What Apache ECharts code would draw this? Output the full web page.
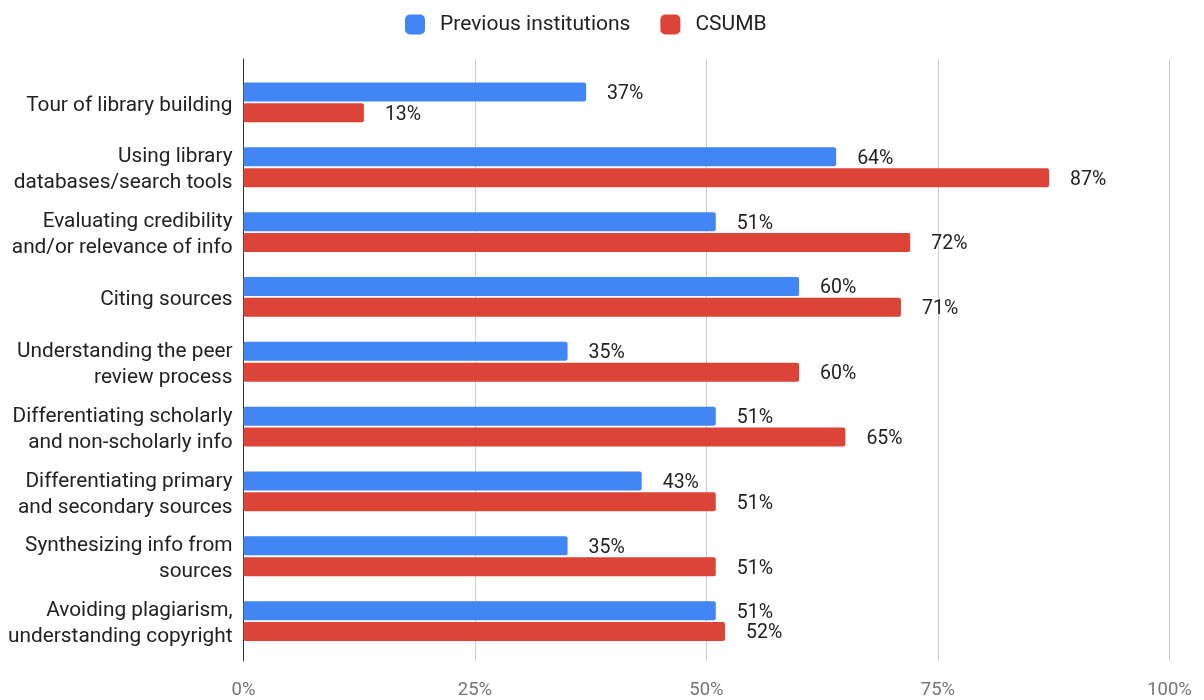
<!DOCTYPE html>
<html>
<head>
<meta charset="utf-8">
<script src="https://cdn.jsdelivr.net/npm/echarts@6/dist/echarts.min.js"></script>
<style>
  html, body { margin: 0; padding: 0; background: #fff; }
  #chart { width: 1204px; height: 700px; }
</style>
</head>
<body>
<div id="chart"></div>
<script>
// Library instruction topics and share of respondents (%)
const categories = [
  'Tour of library building',
  'Using library\ndatabases/search tools',
  'Evaluating credibility\nand/or relevance of info',
  'Citing sources',
  'Understanding the peer\nreview process',
  'Differentiating scholarly\nand non-scholarly info',
  'Differentiating primary\nand secondary sources',
  'Synthesizing info from\nsources',
  'Avoiding plagiarism,\nunderstanding copyright'
];
const previousInstitutions = [37, 64, 51, 60, 35, 51, 43, 35, 51];
const csumb = [13, 87, 72, 71, 60, 65, 51, 51, 52];
const axisTicks = [0, 25, 50, 75, 100];

const FONT = 'Roboto, "Noto Sans", sans-serif';
const chart = echarts.init(document.getElementById('chart'), null, { renderer: 'canvas' });

const labelStyle = {
  show: true,
  position: 'right',
  distance: 21,
  offset: [0, 2],
  formatter: p => p.value + '%',
  fontFamily: FONT,
  fontSize: 19.5,
  color: '#222'
};

chart.setOption({
  animation: false,
  textStyle: { fontFamily: FONT },
  legend: {
    left: 400,
    top: 9,
    itemWidth: 20,
    itemHeight: 20,
    itemGap: 30,
    icon: 'roundRect',
    textStyle: { fontFamily: FONT, fontSize: 21, color: '#222', padding: [0, 0, 0, 10] },
    data: ['Previous institutions', 'CSUMB']
  },
  grid: [
    // frame: gridlines, value labels and baseline
    { left: 243.5, right: 34.5, top: 59, bottom: 37, containLabel: false },
    // bars
    { left: 243.5, right: 34.5, top: 70, bottom: 46.5, containLabel: false }
  ],
  xAxis: [
    {
      gridIndex: 0,
      type: 'value',
      min: axisTicks[0],
      max: axisTicks[axisTicks.length - 1],
      interval: axisTicks[1] - axisTicks[0],
      axisLine: { show: false },
      axisTick: { show: false },
      splitLine: { show: true, lineStyle: { color: '#cccccc', width: 1 } },
      axisLabel: {
        formatter: '{value}%',
        color: '#757575',
        fontFamily: FONT,
        fontSize: 18.5,
        margin: 20
      }
    },
    {
      gridIndex: 1,
      type: 'value',
      min: axisTicks[0],
      max: axisTicks[axisTicks.length - 1],
      show: false
    }
  ],
  yAxis: [
    {
      gridIndex: 0,
      type: 'category',
      data: [''],
      axisLine: { show: true, lineStyle: { color: '#333', width: 1 } },
      axisTick: { show: false },
      axisLabel: { show: false },
      splitLine: { show: false }
    },
    {
      gridIndex: 1,
      type: 'category',
      inverse: true,
      data: categories,
      axisLine: { show: false },
      axisTick: { show: false },
      splitLine: { show: false },
      axisLabel: {
        color: '#222',
        fontFamily: FONT,
        fontSize: 20.8,
        lineHeight: 26,
        margin: 11,
        align: 'right',
        // each line gets a little top padding so the text sits slightly lower
        formatter: v => v.split('\n').map(line => '{t|' + line + '}').join('\n'),
        rich: {
          t: { color: '#222', fontFamily: FONT, fontSize: 20.8, lineHeight: 26, padding: [6, 0, 0, 0] }
        }
      }
    }
  ],
  series: [
    {
      name: 'Previous institutions',
      type: 'bar',
      xAxisIndex: 1,
      yAxisIndex: 1,
      data: previousInstitutions,
      barWidth: 19,
      barGap: '10%',
      itemStyle: { color: '#4285F4', borderRadius: 2 },
      label: labelStyle
    },
    {
      name: 'CSUMB',
      type: 'bar',
      xAxisIndex: 1,
      yAxisIndex: 1,
      data: csumb,
      barWidth: 19,
      barGap: '10%',
      itemStyle: { color: '#DB4437', borderRadius: 2 },
      label: labelStyle
    }
  ]
});
</script>
</body>
</html>
